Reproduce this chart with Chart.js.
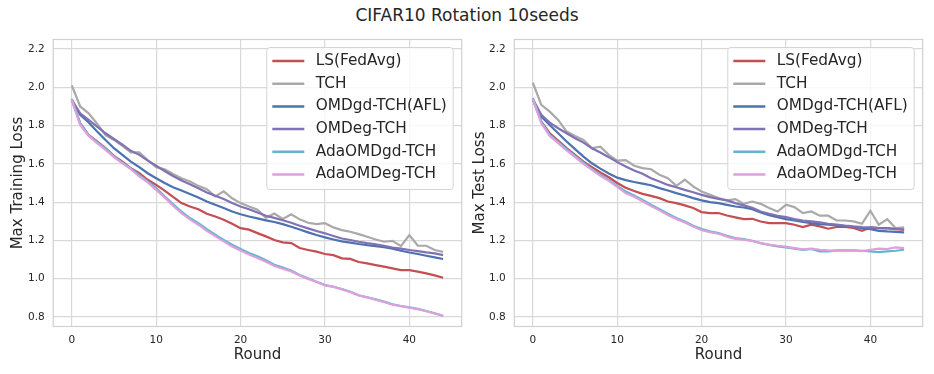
<!DOCTYPE html>
<html>
<head>
<meta charset="utf-8">
<script src="https://cdn.jsdelivr.net/npm/chart.js@4.4.1/dist/chart.umd.min.js"></script>
<style>
    body { margin: 0; background: #fff; }
    #wrap { position: relative; width: 934px; height: 374px; }
    #title { position: absolute; left: 0; top: 5px; width: 934px; text-align: center; font: 17px "DejaVu Sans"; line-height: 20px; color: #262626; }
    canvas { position: absolute; top: 0; }
</style>
</head>
<body>
<div id="wrap">
    <div id="title">CIFAR10 Rotation 10seeds</div>
    <canvas id="trainChart" width="467" height="374" style="left:0"></canvas>
    <canvas id="testChart" width="467" height="374" style="left:467px"></canvas>
</div>
<script>
// rounds on the x axis
const rounds = [0, 1, 2, 3, 4, 5, 6, 7, 8, 9, 10, 11, 12, 13, 14, 15, 16, 17, 18, 19, 20, 21, 22,
    23, 24, 25, 26, 27, 28, 29, 30, 31, 32, 33, 34, 35, 36, 37, 38, 39, 40, 41, 42, 43, 44];

const seriesNames = ["LS(FedAvg)", "TCH", "OMDgd-TCH(AFL)", "OMDeg-TCH", "AdaOMDgd-TCH", "AdaOMDeg-TCH"];
const seriesColors = ["#C44E52", "#A9A9A9", "#4C72B0", "#8172B3", "#64B5CD", "#DDA0DD"];

const xTicks = [0, 10, 20, 30, 40];
const yTicks = [0.8, 1.0, 1.2, 1.4, 1.6, 1.8, 2.0, 2.2];

// Max Training Loss
const trainLS = [1.934, 1.812, 1.751, 1.717, 1.682, 1.642, 1.612, 1.577, 1.551, 1.517, 1.49, 1.46, 1.428, 1.395, 1.377,
    1.363, 1.339, 1.325, 1.308, 1.287, 1.264, 1.256, 1.238, 1.221, 1.202, 1.19, 1.186, 1.16, 1.15, 1.141,
    1.129, 1.123, 1.106, 1.103, 1.087, 1.08, 1.071, 1.063, 1.054, 1.045, 1.045, 1.037, 1.028, 1.017, 1.005];
const trainTCH = [2.01, 1.9, 1.864, 1.81, 1.75, 1.725, 1.694, 1.66, 1.66, 1.62, 1.583, 1.572, 1.547, 1.525, 1.508,
    1.485, 1.468, 1.43, 1.456, 1.42, 1.395, 1.377, 1.36, 1.318, 1.34, 1.312, 1.337, 1.31, 1.292, 1.285,
    1.29, 1.268, 1.254, 1.245, 1.233, 1.219, 1.205, 1.193, 1.198, 1.17, 1.228, 1.172, 1.172, 1.15, 1.14];
const trainOMDgd = [1.934, 1.856, 1.816, 1.769, 1.725, 1.682, 1.647, 1.612, 1.583, 1.551, 1.525, 1.5, 1.478, 1.461, 1.443,
    1.424, 1.403, 1.386, 1.369, 1.351, 1.337, 1.325, 1.315, 1.305, 1.296, 1.285, 1.271, 1.257, 1.242, 1.228,
    1.216, 1.205, 1.195, 1.188, 1.181, 1.175, 1.17, 1.165, 1.157, 1.146, 1.137, 1.129, 1.12, 1.111, 1.103];
const trainOMDeg = [1.934, 1.864, 1.83, 1.795, 1.76, 1.73, 1.7, 1.668, 1.647, 1.617, 1.59, 1.563, 1.537, 1.513, 1.494,
    1.473, 1.45, 1.433, 1.416, 1.395, 1.377, 1.363, 1.346, 1.329, 1.318, 1.305, 1.292, 1.277, 1.263, 1.249,
    1.237, 1.223, 1.21, 1.202, 1.193, 1.186, 1.18, 1.172, 1.163, 1.157, 1.15, 1.144, 1.137, 1.132, 1.123];
const trainAdaGd = [1.94, 1.81, 1.75, 1.714, 1.68, 1.64, 1.607, 1.575, 1.543, 1.508, 1.473, 1.43, 1.39, 1.35, 1.317,
    1.29, 1.259, 1.23, 1.203, 1.177, 1.155, 1.134, 1.117, 1.096, 1.073, 1.058, 1.042, 1.019, 1.002, 0.984,
    0.967, 0.958, 0.946, 0.932, 0.913, 0.903, 0.892, 0.88, 0.866, 0.857, 0.85, 0.842, 0.831, 0.819, 0.805];
const trainAdaEg = [1.934, 1.803, 1.746, 1.708, 1.673, 1.635, 1.603, 1.572, 1.534, 1.503, 1.464, 1.424, 1.382, 1.342, 1.31,
    1.282, 1.25, 1.222, 1.195, 1.168, 1.147, 1.126, 1.108, 1.088, 1.066, 1.052, 1.038, 1.017, 0.999, 0.983,
    0.965, 0.957, 0.944, 0.93, 0.912, 0.902, 0.89, 0.878, 0.864, 0.856, 0.849, 0.84, 0.83, 0.818, 0.807];

// Max Test Loss
const testLS = [1.937, 1.821, 1.76, 1.722, 1.682, 1.647, 1.612, 1.583, 1.555, 1.53, 1.5, 1.475, 1.458, 1.443, 1.433,
    1.421, 1.403, 1.395, 1.383, 1.369, 1.348, 1.343, 1.343, 1.33, 1.32, 1.311, 1.313, 1.299, 1.29, 1.29,
    1.29, 1.282, 1.27, 1.282, 1.273, 1.261, 1.27, 1.27, 1.265, 1.25, 1.268, 1.264, 1.264, 1.259, 1.256];
const testTCH = [2.024, 1.908, 1.873, 1.83, 1.769, 1.746, 1.725, 1.682, 1.69, 1.647, 1.617, 1.62, 1.59, 1.578, 1.572,
    1.543, 1.525, 1.485, 1.517, 1.482, 1.456, 1.438, 1.421, 1.409, 1.416, 1.391, 1.403, 1.391, 1.369, 1.351,
    1.386, 1.374, 1.343, 1.351, 1.329, 1.329, 1.304, 1.304, 1.299, 1.287, 1.355, 1.282, 1.311, 1.264, 1.268];
const testOMDgd = [1.937, 1.847, 1.803, 1.76, 1.717, 1.677, 1.638, 1.603, 1.575, 1.55, 1.528, 1.515, 1.505, 1.497, 1.488,
    1.473, 1.461, 1.447, 1.435, 1.421, 1.409, 1.4, 1.395, 1.386, 1.377, 1.372, 1.363, 1.346, 1.332, 1.322,
    1.311, 1.304, 1.296, 1.29, 1.285, 1.282, 1.278, 1.273, 1.27, 1.264, 1.259, 1.25, 1.247, 1.245, 1.242];
const testOMDeg = [1.937, 1.856, 1.816, 1.786, 1.76, 1.734, 1.711, 1.682, 1.659, 1.635, 1.609, 1.586, 1.565, 1.548, 1.525,
    1.508, 1.49, 1.478, 1.464, 1.452, 1.438, 1.426, 1.417, 1.409, 1.395, 1.383, 1.371, 1.351, 1.339, 1.329,
    1.322, 1.311, 1.304, 1.299, 1.294, 1.287, 1.282, 1.277, 1.273, 1.27, 1.268, 1.264, 1.263, 1.261, 1.256];
const testAdaGd = [1.943, 1.821, 1.751, 1.715, 1.677, 1.642, 1.607, 1.572, 1.543, 1.515, 1.485, 1.456, 1.435, 1.412, 1.386,
    1.363, 1.339, 1.317, 1.299, 1.277, 1.259, 1.247, 1.238, 1.224, 1.212, 1.207, 1.198, 1.185, 1.177, 1.169,
    1.163, 1.157, 1.151, 1.155, 1.143, 1.143, 1.148, 1.148, 1.148, 1.146, 1.143, 1.139, 1.143, 1.146, 1.151];
const testAdaEg = [1.937, 1.812, 1.746, 1.708, 1.67, 1.635, 1.6, 1.569, 1.537, 1.511, 1.48, 1.447, 1.428, 1.405, 1.38,
    1.357, 1.333, 1.312, 1.294, 1.272, 1.253, 1.243, 1.235, 1.22, 1.208, 1.204, 1.197, 1.186, 1.178, 1.172,
    1.167, 1.16, 1.153, 1.157, 1.151, 1.148, 1.146, 1.148, 1.146, 1.144, 1.151, 1.157, 1.155, 1.163, 1.16];

const FONT = "DejaVu Sans";
const TEXT = "#262626";

// light grey frame round the plot area (all four spines)
const frame = {
    id: "frame",
    afterDatasetsDraw(chart) {
        const { ctx, chartArea: a } = chart;
        ctx.save();
        ctx.strokeStyle = "#d0d0d0";
        ctx.lineWidth = 1.2;
        ctx.strokeRect(a.left, a.top, a.right - a.left, a.bottom - a.top);
        ctx.restore();
    },
};

// boxed legend in the upper right corner, like matplotlib's
const boxLegend = {
    id: "boxLegend",
    afterDatasetsDraw(chart) {
        const { ctx, chartArea: a } = chart;
        const sets = chart.data.datasets;
        ctx.save();
        ctx.font = "15.3px '" + FONT + "'";
        let maxText = 0;
        sets.forEach((ds) => {
            maxText = Math.max(maxText, ctx.measureText(ds.label).width);
        });
        const w = 5.5 + 32 + 11.5 + maxText + 6.5;
        const h = 13.5 + 22.7 * (sets.length - 1) + 15;
        const left = a.right - 8.5 - w;
        const top = a.top + 8;
        ctx.beginPath();
        ctx.roundRect(left, top, w, h, 3);
        ctx.fillStyle = "rgba(255, 255, 255, 0.8)";
        ctx.fill();
        ctx.strokeStyle = "#d4d4d4";
        ctx.lineWidth = 1;
        ctx.stroke();
        sets.forEach((ds, i) => {
            const y = top + 13.5 + 22.7 * i;
            ctx.beginPath();
            ctx.moveTo(left + 5.5, y);
            ctx.lineTo(left + 37.5, y);
            ctx.strokeStyle = ds.borderColor;
            ctx.lineWidth = 2.5;
            ctx.stroke();
            ctx.fillStyle = TEXT;
            ctx.textBaseline = "middle";
            ctx.fillText(ds.label, left + 49, y);
        });
        ctx.restore();
    },
};

function makeDatasets(series) {
    return series.map((values, i) => ({
        label: seriesNames[i],
        data: values,
        borderColor: seriesColors[i],
        backgroundColor: seriesColors[i],
        borderWidth: 2.2,
        pointRadius: 0,
        tension: 0,
        fill: false,
        order: series.length - 1 - i,
    }));
}

function makeConfig(series, yTitle, yWidth, padRight, yTitlePad) {
    return {
        type: "line",
        data: {
            labels: rounds,
            datasets: makeDatasets(series),
        },
        options: {
            responsive: false,
            animation: false,
            layout: {
                padding: { top: 39.5, right: padRight, left: 0, bottom: 0 },
            },
            plugins: {
                legend: { display: false },
                tooltip: { enabled: false },
            },
            scales: {
                x: {
                    type: "linear",
                    min: -2.2,
                    max: 46.2,
                    afterFit: (scale) => {
                        scale.height = 47.5;
                    },
                    afterBuildTicks: (scale) => {
                        scale.ticks = xTicks.map((v) => ({ value: v }));
                    },
                    grid: { color: "#d9d9d9", lineWidth: 1.2, drawTicks: false },
                    border: { display: false },
                    ticks: {
                        padding: 7,
                        color: TEXT,
                        font: { family: FONT, size: 10.5 },
                    },
                    title: {
                        display: true,
                        text: "Round",
                        color: TEXT,
                        font: { family: FONT, size: 15 },
                        padding: { top: 0, bottom: 10 },
                    },
                },
                y: {
                    min: 0.75,
                    max: 2.25,
                    afterFit: (scale) => {
                        scale.width = yWidth;
                    },
                    afterBuildTicks: (scale) => {
                        scale.ticks = yTicks.map((v) => ({ value: v }));
                    },
                    grid: { color: "#d9d9d9", lineWidth: 1.2, drawTicks: false },
                    border: { display: false },
                    ticks: {
                        padding: 8.5,
                        color: TEXT,
                        font: { family: FONT, size: 10.5 },
                        callback: (v) => v.toFixed(1),
                    },
                    title: {
                        display: true,
                        text: yTitle,
                        color: TEXT,
                        font: { family: FONT, size: 15 },
                        padding: { top: yTitlePad, bottom: 0 },
                    },
                },
            },
        },
        plugins: [frame, boxLegend],
    };
}

const trainChart = new Chart(
    document.getElementById("trainChart"),
    makeConfig([trainLS, trainTCH, trainOMDgd, trainOMDeg, trainAdaGd, trainAdaEg], "Max Training Loss", 53.2, 5.3, 9)
);

const testChart = new Chart(
    document.getElementById("testChart"),
    makeConfig([testLS, testTCH, testOMDgd, testOMDeg, testAdaGd, testAdaEg], "Max Test Loss", 47.3, 11.3, 4)
);
</script>
</body>
</html>
